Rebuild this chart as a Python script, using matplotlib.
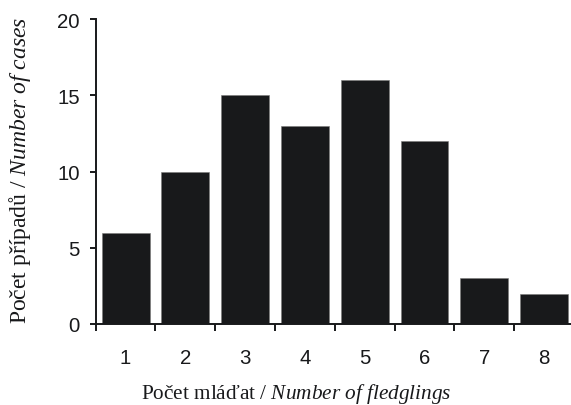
import matplotlib
matplotlib.use("Agg")
import matplotlib.pyplot as plt
import numpy as np

categories = [1, 2, 3, 4, 5, 6, 7, 8]
counts = [6, 10, 15, 13, 16, 12, 3, 2]
yticks = [0, 5, 10, 15, 20]

plt.rcParams['mathtext.fontset'] = 'custom'
plt.rcParams['mathtext.rm'] = 'Liberation Serif'
plt.rcParams['mathtext.it'] = 'Liberation Serif:italic'

fig = plt.figure(figsize=(5.71, 4.06), dpi=100)
ax = fig.add_axes([95.7/571, 1-325/406, 1-95.7/571, (325-20)/406])

ax.bar(categories, counts, width=0.8, color='#18191b', edgecolor='#7a7a7a', linewidth=0.4, zorder=2)

ax.set_xlim(0.5, 8.45)
ax.set_ylim(0, 20)
ax.set_yticks(yticks)
ax.set_xticks(categories)
ax.set_xticks(np.arange(0.5, 8.0, 1.0), minor=True)
ax.tick_params(axis='x', which='major', length=0, pad=17)
ax.tick_params(axis='x', which='minor', length=5, width=1.4, direction='out', color='#18191b')
ax.tick_params(axis='y', length=4.5, width=1.4, direction='out', pad=7, color='#18191b')
for lab in ax.get_xticklabels() + ax.get_yticklabels():
    lab.set_fontfamily('Liberation Sans')
    lab.set_fontsize(14.7)
    lab.set_color('#18191b')

for s in ['top', 'right']:
    ax.spines[s].set_visible(False)
for s in ['left', 'bottom']:
    ax.spines[s].set_linewidth(1.4)
    ax.spines[s].set_color('#18191b')

ax.set_xlabel(r"Počet mláďat / $\it{Number\ of\ fledglings}$", fontfamily='Liberation Serif', fontsize=15.3, color='#18191b')
ax.set_ylabel(r"Počet případů / $\it{Number\ of\ cases}$", fontfamily='Liberation Serif', fontsize=17, color='#18191b')
ax.yaxis.set_label_coords(-(95.7-33)/(571-95.7), (325-170)/305)
ax.xaxis.set_label_coords((296-95.7)/(571-95.7), -(399-325)/305)
ax.xaxis.label.set_va('baseline')

fig.savefig('out.png', dpi=100)
